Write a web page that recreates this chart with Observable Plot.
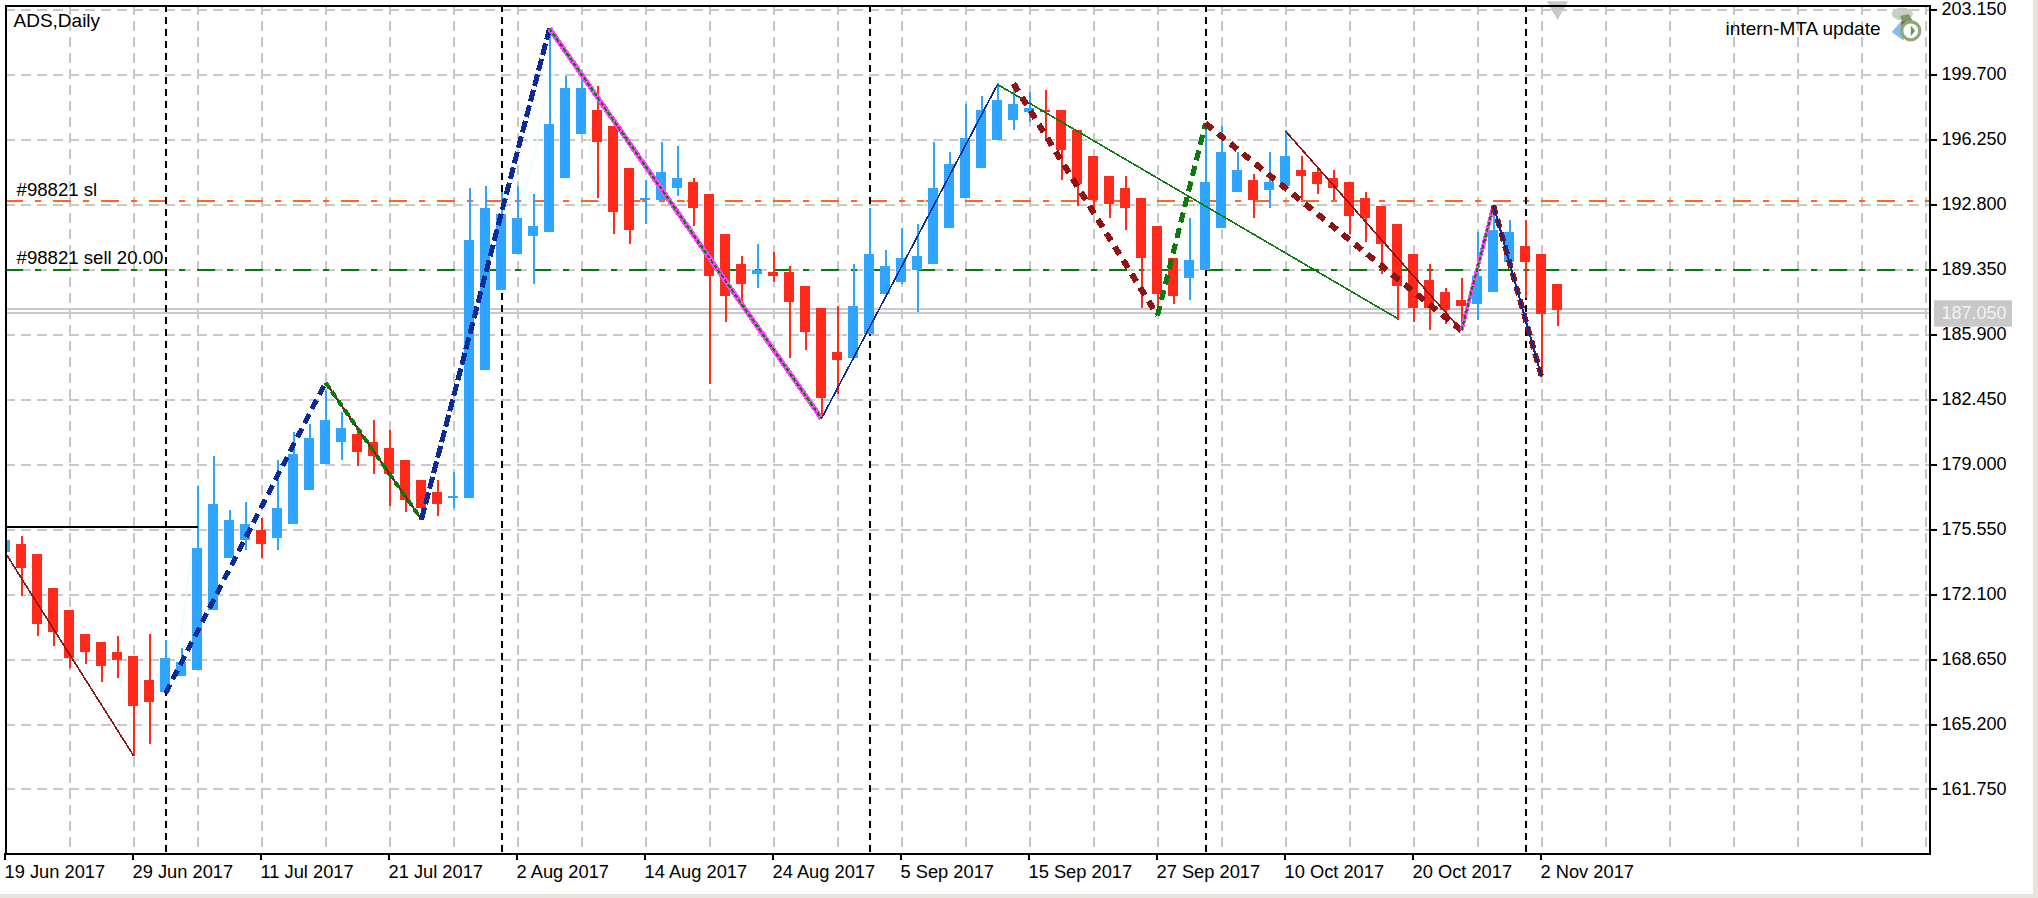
<!DOCTYPE html>
<html>
<head>
<meta charset="utf-8">
<script src="https://cdn.jsdelivr.net/npm/d3@7"></script>
<script src="https://cdn.jsdelivr.net/npm/@observablehq/plot@0.6"></script>
<style>
html,body{margin:0;padding:0;width:2038px;height:898px;overflow:hidden;background:#e6e2dc}
#chart{width:2033px;height:894px;background:#fff}
svg{display:block}
</style>
</head>
<body>
<div id="chart"></div>
<script>
const opens=[174.33,174.75,174.22,172.42,171.25,169.98,169.55,169.02,168.81,167.54,166.90,167.75,168.07,171.25,174.01,174.97,175.50,175.07,175.82,177.62,179.00,180.17,180.59,180.17,179.85,179.21,178.15,177.51,177.20,177.20,183.99,188.24,190.15,191.10,191.31,194.18,196.52,197.79,196.94,194.71,193.01,193.01,193.65,193.97,193.33,191.21,189.62,189.08,189.19,189.19,188.45,187.28,184.95,184.63,185.90,188.02,188.66,189.30,189.62,191.53,193.12,194.71,196.20,197.26,197.68,197.79,197.79,196.73,195.35,194.29,193.65,193.12,191.63,189.93,188.87,189.30,191.53,193.44,194.07,193.54,193.76,194.60,194.50,194.18,193.97,193.12,192.69,191.74,190.15,188.77,188.13,187.71,187.49,188.13,189.72,190.57,190.15,188.55];
const highs=[174.97,175.18,174.22,172.42,171.25,169.98,169.55,169.87,168.81,169.98,169.66,169.24,177.83,179.42,176.56,176.98,176.13,179.21,180.70,181.12,182.93,181.76,180.70,181.32,180.80,179.21,178.15,178.15,178.58,193.65,193.76,193.44,193.76,193.33,202.14,199.59,199.64,199.06,196.94,194.71,194.07,196.09,195.88,194.18,193.33,191.21,190.04,190.68,190.25,189.51,188.45,187.28,187.39,189.62,192.59,190.36,191.53,191.74,196.09,195.56,198.11,198.53,199.22,199.01,198.74,198.85,197.79,196.73,195.35,194.29,194.29,193.12,191.63,189.93,192.06,197.10,196.94,195.56,194.39,195.56,196.73,195.35,194.76,194.60,193.97,193.44,192.69,191.74,190.15,189.62,188.34,188.87,191.31,192.69,191.95,191.95,190.15,188.55];
const lows=[174.33,171.99,169.87,169.34,168.17,168.39,167.43,167.64,163.50,164.14,166.90,167.75,168.07,171.25,174.01,174.44,174.01,174.44,175.82,177.62,179.00,179.21,178.89,178.47,176.77,176.45,176.56,176.24,176.66,177.20,183.99,188.24,190.15,188.55,191.31,194.18,196.52,193.12,191.21,190.68,191.74,193.01,193.23,191.63,183.25,186.54,187.55,188.34,188.66,184.63,185.05,181.44,182.72,184.63,185.90,188.02,188.55,187.07,189.62,191.53,193.12,194.71,196.20,196.73,197.15,196.20,194.07,192.69,192.38,192.06,191.42,187.28,187.01,187.49,187.71,189.30,191.53,193.44,192.06,192.59,193.76,193.01,193.33,193.01,191.21,190.78,189.08,186.64,186.54,186.12,186.43,186.12,186.64,188.13,189.51,187.81,183.67,186.33];
const closes=[174.97,173.48,170.51,170.08,168.70,169.02,168.28,168.60,166.16,166.37,168.70,168.49,174.54,176.88,176.03,175.82,174.75,176.66,179.53,180.38,181.32,180.91,179.64,179.42,178.47,177.09,176.66,176.88,177.30,190.89,192.59,192.27,192.06,191.63,197.05,198.96,198.96,196.09,192.38,191.42,193.12,194.50,194.18,192.59,188.98,187.92,188.55,189.30,188.98,187.60,186.01,182.50,184.52,187.39,190.15,189.51,189.93,190.04,193.65,194.92,196.30,197.79,198.32,198.11,197.90,197.68,195.67,193.86,193.01,192.80,192.59,189.93,188.02,187.92,189.83,193.97,195.56,194.60,193.01,193.97,195.35,194.29,193.86,193.65,192.16,192.06,190.68,188.45,187.28,187.28,187.17,187.39,188.98,191.42,191.31,189.72,186.96,187.17];

const shadeIndex=[0,2,4,5,7,8,9,10,11,12,13,14,15,16,17,18,20,21,22,23,24,25,26,27,28,29,30,31,32,33,34,35,36,37,38,39,40,42,43,44,45,46,47,48,49,50,51,52,53,54,55,56,57,58,59,60,61,62,63,64,65,66,67,68,69,70,71,72,73,74,75,76,77,78,79,80,81,82,83,84,85,86,87,88,89,90,91,92,93,94,95,96,97];
const shadePrice=[174.17,171.09,168.75,168.70,168.49,163.98,166.10,168.60,170.03,176.82,176.40,176.40,175.34,174.54,176.19,180.27,181.87,180.11,179.21,179.37,177.78,177.09,176.40,176.72,176.93,189.83,191.95,191.42,192.11,195.14,199.81,199.22,198.05,193.17,191.58,191.42,193.54,193.54,192.48,189.14,187.87,187.87,188.77,188.77,187.55,185.74,182.56,185.42,187.33,190.20,189.14,190.36,191.05,195.14,194.98,197.10,197.79,199.12,198.69,197.95,197.79,195.93,194.07,192.85,192.48,192.32,189.83,187.71,187.87,190.73,195.51,196.04,193.54,193.28,195.14,195.14,194.60,194.34,193.92,192.11,191.79,190.20,186.80,187.33,186.80,186.64,186.49,189.67,192.11,191.42,188.87,187.01,187.17];

const priceTicks=[203.15,199.70,196.25,192.80,189.35,185.90,182.45,179.00,175.55,172.10,168.65,165.20,161.75];
const dateLabels=["19 Jun 2017","29 Jun 2017","11 Jul 2017","21 Jul 2017","2 Aug 2017","14 Aug 2017","24 Aug 2017","5 Sep 2017","15 Sep 2017","27 Sep 2017","10 Oct 2017","20 Oct 2017","2 Nov 2017"];
const dateIndex=[0,8,16,24,32,40,48,56,64,72,80,88,96];
const gridIndex=[4,8,12,16,20,24,28,32,36,40,44,48,52,56,60,64,68,72,76,80,84,88,92,96,100,104,108,112,116,120];
const periodIndex=[10,31,54,75,95];
const slPrice=192.96, entryPrice=189.35, bidPrice=187.23, askPrice=187.04, lastPrice=187.05, levelPrice=175.68;

const thinRed1=[[0,174.30],[8,163.55]];
const blueA=[[10,166.85],[20,183.35]];
const greenA=[[20,183.35],[26,176.08]];
const blueB=[[26,176.08],[34,202.14]];
const magentaA=[[34,202.14],[51,181.44]];
const navyThin=[[51,181.44],[62,199.17]];
const greenThin=[[62,199.17],[87,186.75]];
const redThickA=[[63,199.22],[72,186.91]];
const greenThick=[[72,186.91],[75,197.10]];
const redThickB=[[75,197.10],[91,186.12]];
const thinRed2=[[80,196.70],[91,186.12]];
const magentaB=[[91,186.12],[93,192.75]];
const redThickC=[[93,192.75],[96,183.67]];
const levelLine=[[0,levelPrice],[12,levelPrice]];

const RED="#ff2a1c",BLUE="#2ea6ff",NAVY="#0b2a98",DRED="#8e1414",GREEN="#0a7a0a",MAG="#ff44ff",GRID="#c8c8c8",ORANGE="#ff6420",ORDERG="#008000";
const FONT="'Liberation Sans',Arial,sans-serif";
const candles=opens.map((o,k)=>({k,o,h:highs[k],l:lows[k],c:closes[k],up:closes[k]>=o}));
const seg=(pts,opt)=>Plot.line(pts,{x:d=>d[0],y:d=>d[1],strokeLinecap:"butt",shapeRendering:"crispEdges",...opt});
const dashDot="18,12,6,12";
const iconSvg="data:image/svg+xml,"+encodeURIComponent('<svg xmlns="http://www.w3.org/2000/svg" viewBox="0 0 32 34"><ellipse cx="13" cy="7" rx="10" ry="6" fill="#c8d0c4"/><path d="M3 24l9-10 6 4-4 14z" fill="#86bcec"/><path d="M11 9l8-2 4 7-9 4z" fill="#7a9a6a"/><rect x="12" y="14" width="4" height="8" fill="#b8502a"/><circle cx="21" cy="23" r="8.5" fill="#fff" stroke="#8fa872" stroke-width="3"/><path d="M21 18v10l4-5z" fill="#5f9a5f"/></svg>');

const chart=Plot.plot({
  width:2033,height:894,marginLeft:5,marginRight:104,marginTop:5,marginBottom:41,
  style:{fontFamily:FONT,fontSize:"18px",background:"#fff",color:"#000"},
  x:{type:"linear",domain:[0,120.25]},
  y:{type:"linear",domain:[158.353,203.363]},
  marks:[
    Plot.ruleX(gridIndex,{x:d=>d,stroke:GRID,strokeWidth:2,strokeDasharray:"10,6",shapeRendering:"crispEdges"}),
    Plot.ruleY(priceTicks,{y:d=>d,stroke:GRID,strokeWidth:2,strokeDasharray:"10,6",shapeRendering:"crispEdges"}),
    Plot.ruleY([bidPrice,askPrice],{y:d=>d,stroke:GRID,strokeWidth:2,shapeRendering:"crispEdges"}),
    Plot.ruleY([slPrice],{y:d=>d,stroke:ORANGE,strokeWidth:2,strokeDasharray:dashDot,shapeRendering:"crispEdges"}),
    Plot.ruleY([entryPrice],{y:d=>d,stroke:ORDERG,strokeWidth:2,strokeDasharray:dashDot,shapeRendering:"crispEdges"}),
    Plot.ruleX(periodIndex,{x:d=>d,stroke:"#000",strokeWidth:2,strokeDasharray:"7,5",shapeRendering:"crispEdges"}),
    Plot.line(shadeIndex.map((k,i)=>[k,shadePrice[i]]),{x:d=>d[0],y:d=>d[1],stroke:"#e4ffff",strokeWidth:1.5}),
    Plot.ruleX(candles,{x:"k",y1:"l",y2:"h",stroke:d=>d.up?BLUE:RED,strokeWidth:2,shapeRendering:"crispEdges",clip:"frame"}),
    Plot.rect(candles,{x1:d=>d.k-5/16,x2:d=>d.k+5/16,y1:"o",y2:"c",fill:d=>d.up?BLUE:RED,shapeRendering:"crispEdges",clip:"frame"}),
    seg(levelLine,{stroke:"#000",strokeWidth:2}),
    seg(thinRed1,{stroke:DRED,strokeWidth:1.6}),
    seg(blueA,{stroke:NAVY,strokeWidth:5,strokeDasharray:"10,6"}),
    seg(greenA,{stroke:DRED,strokeWidth:2}),
    seg(greenA,{stroke:GREEN,strokeWidth:4,strokeDasharray:"7,4"}),
    seg(blueB,{stroke:NAVY,strokeWidth:5,strokeDasharray:"12,4"}),
    seg(magentaA,{stroke:MAG,strokeWidth:5}),
    seg(magentaA,{stroke:GREEN,strokeWidth:2,strokeDasharray:"4,2"}),
    seg(navyThin,{stroke:NAVY,strokeWidth:1.6}),
    seg(greenThin,{stroke:GREEN,strokeWidth:1.6}),
    seg(redThickA,{stroke:DRED,strokeWidth:6,strokeDasharray:"9,7"}),
    seg(greenThick,{stroke:GREEN,strokeWidth:5,strokeDasharray:"10,6"}),
    seg(redThickB,{stroke:DRED,strokeWidth:6,strokeDasharray:"9,7"}),
    seg(thinRed2,{stroke:DRED,strokeWidth:1.6}),
    seg(magentaB,{stroke:MAG,strokeWidth:4}),
    seg(magentaB,{stroke:GREEN,strokeWidth:2,strokeDasharray:"4,2"}),
    seg(redThickC,{stroke:DRED,strokeWidth:5.5,strokeDasharray:"9,5"}),
    seg(redThickC,{stroke:NAVY,strokeWidth:2}),
    Plot.dot([97],{x:d=>d,frameAnchor:"top",symbol:"triangle",rotate:180,r:8,dy:2,fill:GRID}),
    Plot.text(["ADS,Daily"],{frameAnchor:"top-left",dx:8,dy:15,fontSize:19,text:d=>d,textAnchor:"start",lineAnchor:"middle",fill:"#000"}),
    Plot.text(["#98821 sl"],{x:()=>0.69,y:()=>slPrice,dy:-5,fontSize:18.6,text:d=>d,textAnchor:"start",lineAnchor:"bottom",fill:"#000"}),
    Plot.text(["#98821 sell 20.00"],{x:()=>0.69,y:()=>entryPrice,dy:-6,fontSize:18.6,text:d=>d,textAnchor:"start",lineAnchor:"bottom",fill:"#000"}),
    Plot.text(["intern-MTA update"],{frameAnchor:"top-right",dx:-49,dy:23,fontSize:19,text:d=>d,textAnchor:"end",lineAnchor:"middle",fill:"#000"}),
    Plot.image([0],{frameAnchor:"top-right",dx:-24,dy:19,width:36,height:36,src:()=>iconSvg}),
    Plot.rect([lastPrice],{x1:()=>120.56,x2:()=>125.44,y1:d=>d-0.76,y2:d=>d+0.64,fill:GRID,clip:false}),
    Plot.text([lastPrice],{x:()=>120.25,y:d=>d,dx:12,text:d=>d.toFixed(3),textAnchor:"start",lineAnchor:"middle",fill:"#f2f2f2"}),
    Plot.frame({stroke:"#000",strokeWidth:2,shapeRendering:"crispEdges"}),
    Plot.axisY({anchor:"right",ticks:priceTicks,tickFormat:d=>d.toFixed(3),tickSize:7,tickPadding:5,strokeWidth:2,label:null,shapeRendering:"crispEdges"}),
    Plot.axisX({anchor:"bottom",ticks:dateIndex,tickFormat:d=>dateLabels[dateIndex.indexOf(d)],tickSize:7,tickPadding:4,strokeWidth:2,textAnchor:"start",fontSize:18.3,dx:-1,label:null,shapeRendering:"crispEdges"})
  ]
});
document.getElementById("chart").append(chart);
</script>
</body>
</html>
